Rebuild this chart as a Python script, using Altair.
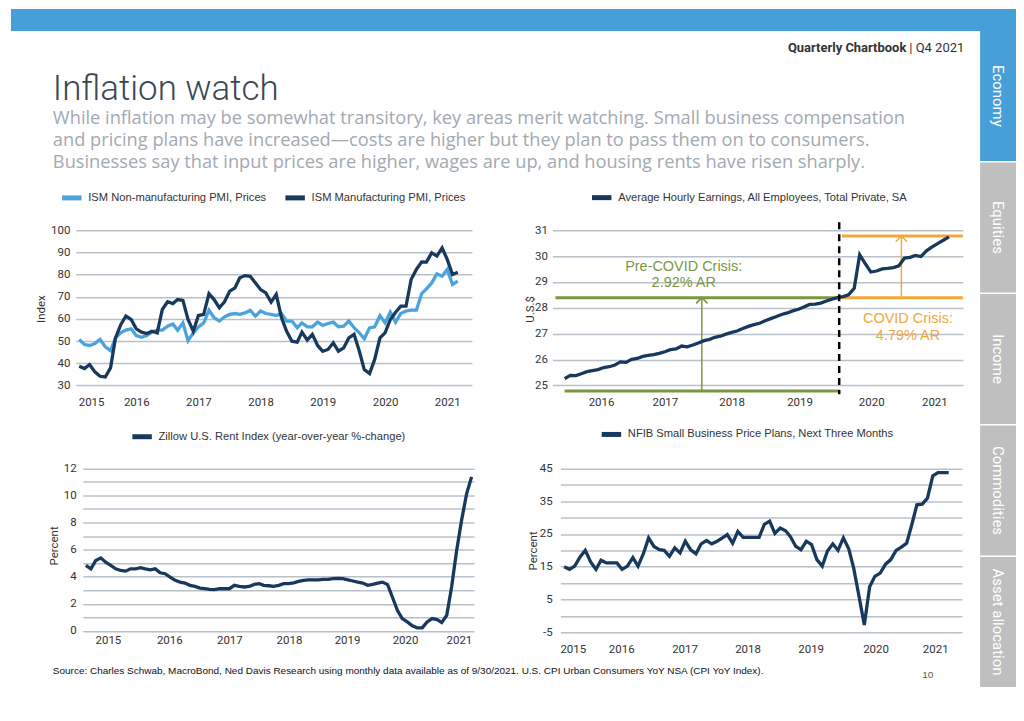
import altair as alt
import pandas as pd

# ---------------- DATA ----------------
# ISM prices (monthly, Aug 2015 - Sep 2021)
ism_start = "2015-08-01"
ism_nonmfg = [50.7, 48.4, 48.0, 48.9, 50.7, 47.4, 45.7, 51.4, 53.7, 54.9,
              55.5, 52.5, 51.7, 52.5, 54.0, 54.9, 54.9, 56.7, 57.7, 54.9,
              58.2, 50.2, 53.7, 56.4, 58.2, 63.9, 60.5, 59.0, 60.9, 62.0,
              62.4, 62.0, 62.7, 63.9, 61.2, 63.5, 62.4, 62.0, 61.5, 62.4,
              59.0, 59.0, 56.0, 58.2, 56.4, 56.4, 58.5, 57.0, 57.9, 58.5,
              56.4, 56.7, 59.0, 56.0, 53.7, 51.0, 55.9, 56.4, 61.5, 58.2,
              63.0, 58.5, 62.4, 63.5, 63.9, 63.9, 71.4, 73.5, 76.2, 80.3,
              79.2, 82.3, 75.5, 77.0]
ism_mfg = [38.6, 37.6, 39.4, 36.1, 34.1, 33.8, 37.9, 51.4, 57.4, 61.3,
           59.7, 55.5, 54.0, 53.4, 54.4, 53.7, 64.2, 67.7, 66.9, 68.7,
           68.3, 59.7, 54.4, 61.5, 62.0, 71.3, 68.7, 65.0, 67.7, 72.5,
           74.0, 78.5, 79.5, 79.2, 76.2, 73.2, 71.7, 67.5, 71.0, 60.5,
           54.4, 49.9, 49.5, 54.0, 50.4, 53.0, 48.0, 45.4, 46.2, 49.2,
           45.4, 46.9, 51.4, 53.0, 45.4, 37.1, 35.3, 41.7, 51.4, 53.7,
           59.7, 63.0, 65.7, 65.7, 77.7, 82.3, 85.7, 85.6, 89.8, 88.3,
           92.0, 86.8, 80.0, 81.0]
ism_names = ["ISM Non-manufacturing PMI, Prices", "ISM Manufacturing PMI, Prices"]
ism_ticks = ["2015-10-10", "2016-07-01", "2017-07-01", "2018-07-01",
             "2019-07-01", "2020-07-01", "2021-07-01"]
ism_domain = ["2015-07-12", "2021-11-23"]

# Average hourly earnings (monthly, Dec 2015 - Sep 2021)
ahe_start = "2015-12-01"
ahe_values = [25.26,
              25.39, 25.38, 25.45, 25.53, 25.57, 25.61, 25.69, 25.72, 25.79, 25.91, 25.89, 26.01,
              26.04, 26.12, 26.16, 26.19, 26.24, 26.30, 26.38, 26.41, 26.52, 26.49, 26.56, 26.64,
              26.73, 26.78, 26.86, 26.90, 26.98, 27.05, 27.10, 27.20, 27.28, 27.35, 27.40, 27.50,
              27.58, 27.66, 27.74, 27.80, 27.88, 27.94, 28.03, 28.13, 28.14, 28.18, 28.26, 28.33,
              28.39, 28.43, 28.50, 28.75, 30.05, 29.70, 29.38, 29.42, 29.50, 29.52, 29.55, 29.62,
              29.92, 29.95, 30.02, 29.98, 30.20, 30.35, 30.48, 30.61, 30.74]
ahe_name = "Average Hourly Earnings, All Employees, Total Private, SA"
ahe_ticks = ["2016-06-17", "2017-06-01", "2018-06-01", "2019-06-07",
             "2020-07-03", "2021-06-13"]
ahe_domain = ["2015-09-25", "2021-11-16"]
pre_level = 28.39
pre_base = 24.78
covid_level = 30.77
covid_date = "2020-01-10"
green_starts = ["2015-10-12", "2015-12-01"]
green_ends = ["2020-01-10", "2020-01-12"]
green_levels = [pre_level, pre_base]
green_arrow_date = "2017-12-20"
orange_start = "2020-01-25"
orange_end = "2021-11-16"
orange_levels = [pre_level, covid_level]
orange_arrow_date = "2020-12-15"
note_text = ["Pre-COVID Crisis:", "2.92% AR", "COVID Crisis:", "4.79% AR"]
note_dates = ["2017-09-12", "2017-09-12", "2021-01-20", "2021-01-20"]
note_values = [29.59, 28.94, 27.58, 26.90]
note_group = ["pre", "pre", "covid", "covid"]

# Zillow rent index YoY (monthly, Mar 2015 - Sep 2021)
zil_start = "2015-03-01"
zil_values = [4.83, 4.58, 5.20, 5.39, 5.07, 4.83, 4.58, 4.46, 4.41, 4.58,
              4.58, 4.66, 4.58, 4.51, 4.58, 4.29, 4.22, 3.97, 3.73, 3.60,
              3.53, 3.36, 3.28, 3.16, 3.11, 3.06, 3.04, 3.11, 3.11, 3.11,
              3.36, 3.28, 3.24, 3.28, 3.43, 3.48, 3.36, 3.33, 3.28, 3.36,
              3.48, 3.48, 3.55, 3.65, 3.73, 3.77, 3.77, 3.77, 3.80, 3.80,
              3.85, 3.87, 3.85, 3.77, 3.68, 3.60, 3.53, 3.36, 3.43, 3.53,
              3.60, 3.43, 2.50, 1.52, 0.91, 0.66, 0.37, 0.22, 0.22, 0.66,
              0.91, 0.83, 0.61, 1.15, 3.24, 5.93, 8.14, 10.10, 11.37]
zil_name = "Zillow U.S. Rent Index (year-over-year %-change)"
zil_ticks = ["2015-07-15", "2016-07-27", "2017-08-01", "2018-08-03",
             "2019-07-27", "2020-07-18", "2021-06-15"]
zil_domain = ["2015-02-10", "2021-09-16"]

# NFIB price plans (monthly, Aug 2015 - Sep 2021)
nfib_start = "2015-08-01"
nfib_values = [15.0, 14.2, 15.2, 18.0, 20.0, 16.5, 14.2, 17.0, 16.2, 16.2,
               16.2, 14.2, 15.2, 17.8, 15.2, 19.0, 23.8, 21.2, 20.2, 20.0,
               18.2, 20.8, 19.2, 22.8, 20.2, 19.0, 22.0, 23.0, 22.0, 22.8,
               23.8, 24.8, 22.2, 25.8, 24.0, 24.0, 24.0, 24.0, 27.9, 28.9,
               25.2, 26.8, 26.0, 24.2, 21.2, 20.2, 22.8, 21.8, 17.2, 15.2,
               19.8, 22.0, 20.0, 23.8, 20.5, 14.5, 5.9, -2.7, 8.9, 12.1,
               13.1, 15.8, 17.2, 20.0, 21.0, 22.2, 28.1, 33.9, 34.1, 35.9,
               42.7, 43.7, 43.7, 43.7]
nfib_name = "NFIB Small Business Price Plans, Next Three Months"
nfib_ticks = ["2015-09-20", "2016-06-26", "2017-06-27", "2018-06-26",
              "2019-06-26", "2020-07-05", "2021-06-15"]
nfib_domain = ["2015-07-10", "2021-11-16"]

tabs = ["Economy", "Equities", "Income", "Commodities", "Asset allocation"]
active_tab = "Economy"
title_text = "Inflation watch"
subtitle_lines = [
    "While inflation may be somewhat transitory, key areas merit watching. Small business compensation",
    "and pricing plans have increased\u2014costs are higher but they plan to pass them on to consumers.",
    "Businesses say that input prices are higher, wages are up, and housing rents have risen sharply.",
]
source_text = ("Source: Charles Schwab, MacroBond, Ned Davis Research using monthly data available as of "
               "9/30/2021. U.S. CPI Urban Consumers YoY NSA (CPI YoY Index).")

# ---------------- STYLE ----------------
BLUE = "#469fd9"
GRAY_TAB = "#bfbfbf"
DARK = "#19395c"
LIGHT = "#4ba3dd"
GREEN = "#7a9741"
ORANGE = "#f2a73b"
GRID = "#b8c0c9"


def months(start, n):
    return list(pd.date_range(start, periods=n, freq="MS").strftime("%Y-%m-%dT00:00:00"))


def dt(s):
    y, m, d = map(int, s.split("-"))
    return alt.DateTime(year=y, month=m, date=d)


def ts(s):
    return s + "T00:00:00"


def xenc(field, domain, ticks, pad):
    return alt.X(field, type="temporal",
                 scale=alt.Scale(domain=[dt(domain[0]), dt(domain[1])]),
                 axis=alt.Axis(values=[dt(t) for t in ticks],
                               labelExpr="timeFormat(datum.value, '%Y')",
                               grid=False, domain=False, ticks=False,
                               labelPadding=pad, labelFlush=False,
                               labelOverlap=False, title=None))


def yenc(field, domain, values, title, pad, tx, ty, label_expr=None):
    kw = dict(values=values, grid=True, domain=False, ticks=False,
              labelPadding=pad, title=title, titleX=tx, titleY=ty,
              titleAngle=270, titleAlign="center", titleBaseline="middle")
    if label_expr:
        kw["labelExpr"] = label_expr
    return alt.Y(field, type="quantitative",
                 scale=alt.Scale(domain=domain, nice=False, zero=False),
                 axis=alt.Axis(**kw))


def leg(x, y):
    return alt.Legend(orient="none", legendX=x, legendY=y, direction="horizontal",
                      title=None, symbolType="stroke", symbolStrokeWidth=5,
                      symbolSize=380, labelFontSize=11.2, labelFont="Liberation Sans",
                      labelColor="#333333", labelOffset=4, columnPadding=8,
                      labelLimit=500)


# ---------------- PANEL 1 : ISM ----------------
d1 = months(ism_start, len(ism_mfg))
df1 = pd.DataFrame({
    "date": d1 + d1,
    "value": ism_nonmfg + ism_mfg,
    "series": [ism_names[0]] * len(d1) + [ism_names[1]] * len(d1),
})
p1 = alt.Chart(df1).mark_line(strokeWidth=3.3).encode(
    x=xenc("date", ism_domain, ism_ticks, 2),
    y=yenc("value", [25.95, 103.5], list(range(30, 101, 10)), "Index", 6, -34.7, 86.5),
    color=alt.Color("series:N", scale=alt.Scale(domain=ism_names, range=[LIGHT, DARK]),
                    legend=leg(-16.5, -37.3)),
).properties(width=397.3, height=172.5)

# ---------------- PANEL 2 : AHE ----------------
df2 = pd.DataFrame({"date": months(ahe_start, len(ahe_values)), "value": ahe_values,
                    "series": ahe_name})
X2 = lambda f: xenc(f, ahe_domain, ahe_ticks, 2)
Y2 = lambda f: yenc(f, [24.653, 31.3], list(range(25, 32)), "U.S.$", 5, -22, 86.8)

green_df = pd.DataFrame({"start": [ts(s) for s in green_starts],
                         "end": [ts(s) for s in green_ends], "level": green_levels})
orange_df = pd.DataFrame({"start": [ts(orange_start)] * 2, "end": [ts(orange_end)] * 2,
                          "level": orange_levels})
arrow_df = pd.DataFrame({"date": [ts(green_arrow_date), ts(orange_arrow_date)],
                         "lo": [pre_base, pre_level], "hi": [pre_level, covid_level],
                         "group": ["pre", "covid"]})
dash_df = pd.DataFrame({"date": [ts(covid_date)]})
note_df = pd.DataFrame({"date": [ts(s) for s in note_dates], "value": note_values,
                        "text": note_text, "group": note_group})

grp_scale = alt.Scale(domain=["pre", "covid"], range=[GREEN, ORANGE])

g_rules = alt.Chart(green_df).mark_rule(color=GREEN, strokeWidth=3).encode(
    x=X2("start"), x2="end", y=Y2("level"))
o_rules = alt.Chart(orange_df).mark_rule(color=ORANGE, strokeWidth=3).encode(
    x=X2("start"), x2="end", y=Y2("level"))
arrows = alt.Chart(arrow_df).mark_rule(strokeWidth=1.5).encode(
    x=X2("date"), y=Y2("lo"), y2="hi",
    stroke=alt.Stroke("group:N", scale=grp_scale, legend=None))
heads = alt.Chart(arrow_df).mark_point(shape="M-1,1L0,0L1,1", filled=False, size=130,
                                       strokeWidth=1.5, opacity=1).encode(
    x=X2("date"), y=Y2("hi"),
    stroke=alt.Stroke("group:N", scale=grp_scale, legend=None))
ahe_line = alt.Chart(df2).mark_line(strokeWidth=3.3).encode(
    x=X2("date"), y=Y2("value"),
    color=alt.Color("series:N", scale=alt.Scale(domain=[ahe_name], range=[DARK]),
                    legend=leg(37, -37.3)))
dash = alt.Chart(dash_df).mark_rule(color="black", strokeWidth=2.5, strokeDash=[7, 5]).encode(
    x=X2("date"))
notes = alt.Chart(note_df).mark_text(font="Liberation Sans", fontSize=14.5, align="center",
                                     baseline="middle").encode(
    x=X2("date"), y=Y2("value"), text="text:N",
    fill=alt.Fill("group:N", scale=grp_scale, legend=None))
p2 = alt.layer(g_rules, o_rules, arrows, heads, ahe_line, dash, notes).resolve_scale(
    color="independent").properties(width=411.7, height=172.5)

# ---------------- PANEL 3 : Zillow ----------------
df3 = pd.DataFrame({"date": months(zil_start, len(zil_values)), "value": zil_values,
                    "series": zil_name})
p3 = alt.Chart(df3).mark_line(strokeWidth=3.3).encode(
    x=xenc("date", zil_domain, zil_ticks, 2.4),
    y=yenc("value", [-0.096, 12.42], list(range(0, 13)), "Percent", 6.6, -28.6, 83,
           "datum.value % 2 == 0 ? datum.label : ''"),
    color=alt.Color("series:N", scale=alt.Scale(domain=[zil_name], range=[DARK]),
                    legend=leg(47, -38.5)),
).properties(width=392.4, height=170)

# ---------------- PANEL 4 : NFIB ----------------
df4 = pd.DataFrame({"date": months(nfib_start, len(nfib_values)), "value": nfib_values,
                    "series": nfib_name})
p4 = alt.Chart(df4).mark_line(strokeWidth=3.3).encode(
    x=xenc("date", nfib_domain, nfib_ticks, 7.7),
    y=yenc("value", [-6.12, 46.73], list(range(-5, 46, 5)), "Percent", 8.3, -27.3, 88,
           "(datum.value + 5) % 10 == 0 ? toString(datum.value) : ''"),
    color=alt.Color("series:N", scale=alt.Scale(domain=[nfib_name], range=[DARK]),
                    legend=leg(38.7, -40.8)),
).properties(width=402.7, height=174)

# ---------------- HEADER / PAGE DECORATION ----------------
one = pd.DataFrame({"k": [0]})


def txt(text, x, y, size, color, font="Roboto", weight="normal", align="left",
        baseline="middle"):
    return alt.Chart(one).mark_text(text=text, font=font, fontSize=size, fontWeight=weight,
                                    color=color, align=align, baseline=baseline).encode(
        x=alt.value(x), y=alt.value(y))


band = alt.Chart(one).mark_rect(color=BLUE).encode(
    x=alt.value(0), x2=alt.value(1008), y=alt.value(0), y2=alt.value(22))
tab_df = pd.DataFrame({"tab": tabs})
tab_y = alt.Y("tab:N", sort=tabs, axis=None,
              scale=alt.Scale(range=[22, 680], paddingInner=0.012, paddingOuter=0))
tab_rects = alt.Chart(tab_df).mark_rect().encode(
    y=tab_y, x=alt.value(972), x2=alt.value(1008),
    color=alt.condition(alt.datum.tab == active_tab, alt.value(BLUE), alt.value(GRAY_TAB)))
tab_text = alt.Chart(tab_df).mark_text(angle=90, color="white", font="Roboto", fontSize=15,
                                       align="center", baseline="middle").encode(
    y=tab_y, x=alt.value(990), text="tab:N")

layers = [band, tab_rects, tab_text,
          txt("Quarterly Chartbook", 898, 39, 13, "#333333", weight="bold", align="right"),
          txt("| Q4 2021", 901, 39, 13, "#333333"),
          txt(title_text, 42, 91, 35, "#3a4756", weight=300, baseline="alphabetic")]
for i, line in enumerate(subtitle_lines):
    layers.append(txt(line, 42, 110 + 22 * i, 18.3, "#a2a9b1", font="Open Sans"))
layers.append(txt(source_text, 42, 664, 10, "#111111", font="Liberation Sans"))
layers.append(txt("10", 914, 668, 10, "#555555", font="Liberation Sans"))
header = alt.layer(*layers).properties(width=1008, height=213.5)


def spacer(w, h=10):
    return alt.Chart(one).mark_point(opacity=0).encode(
        x=alt.value(0), y=alt.value(0)).properties(width=w, height=h)


row1 = alt.hconcat(spacer(64.7), p1, spacer(80), p2, spacing=0, bounds="flush").resolve_scale(
    color="independent", x="independent", y="independent").resolve_legend(color="independent")
row2 = alt.hconcat(spacer(71.3), p3, spacer(85.6), p4, spacing=0, bounds="flush").resolve_scale(
    color="independent", x="independent", y="independent").resolve_legend(color="independent")

# nested rows count as zero height in a flush layout, so a spacer row sets the gap
chart = alt.vconcat(header, row1, spacer(1, 240.5), row2, spacing=0, bounds="flush",
                    padding=0, background="white").resolve_scale(
    color="independent", x="independent", y="independent").resolve_legend(
    color="independent").configure_view(stroke=None).configure_axis(
    labelFont="Roboto", labelFontSize=11.5, labelColor="#333333",
    titleFont="Roboto", titleFontSize=11.5, titleFontWeight="normal", titleColor="#333333",
    gridColor=GRID, gridWidth=1.5)

chart.save("out.html", embed_options={"renderer": "svg", "actions": False})
